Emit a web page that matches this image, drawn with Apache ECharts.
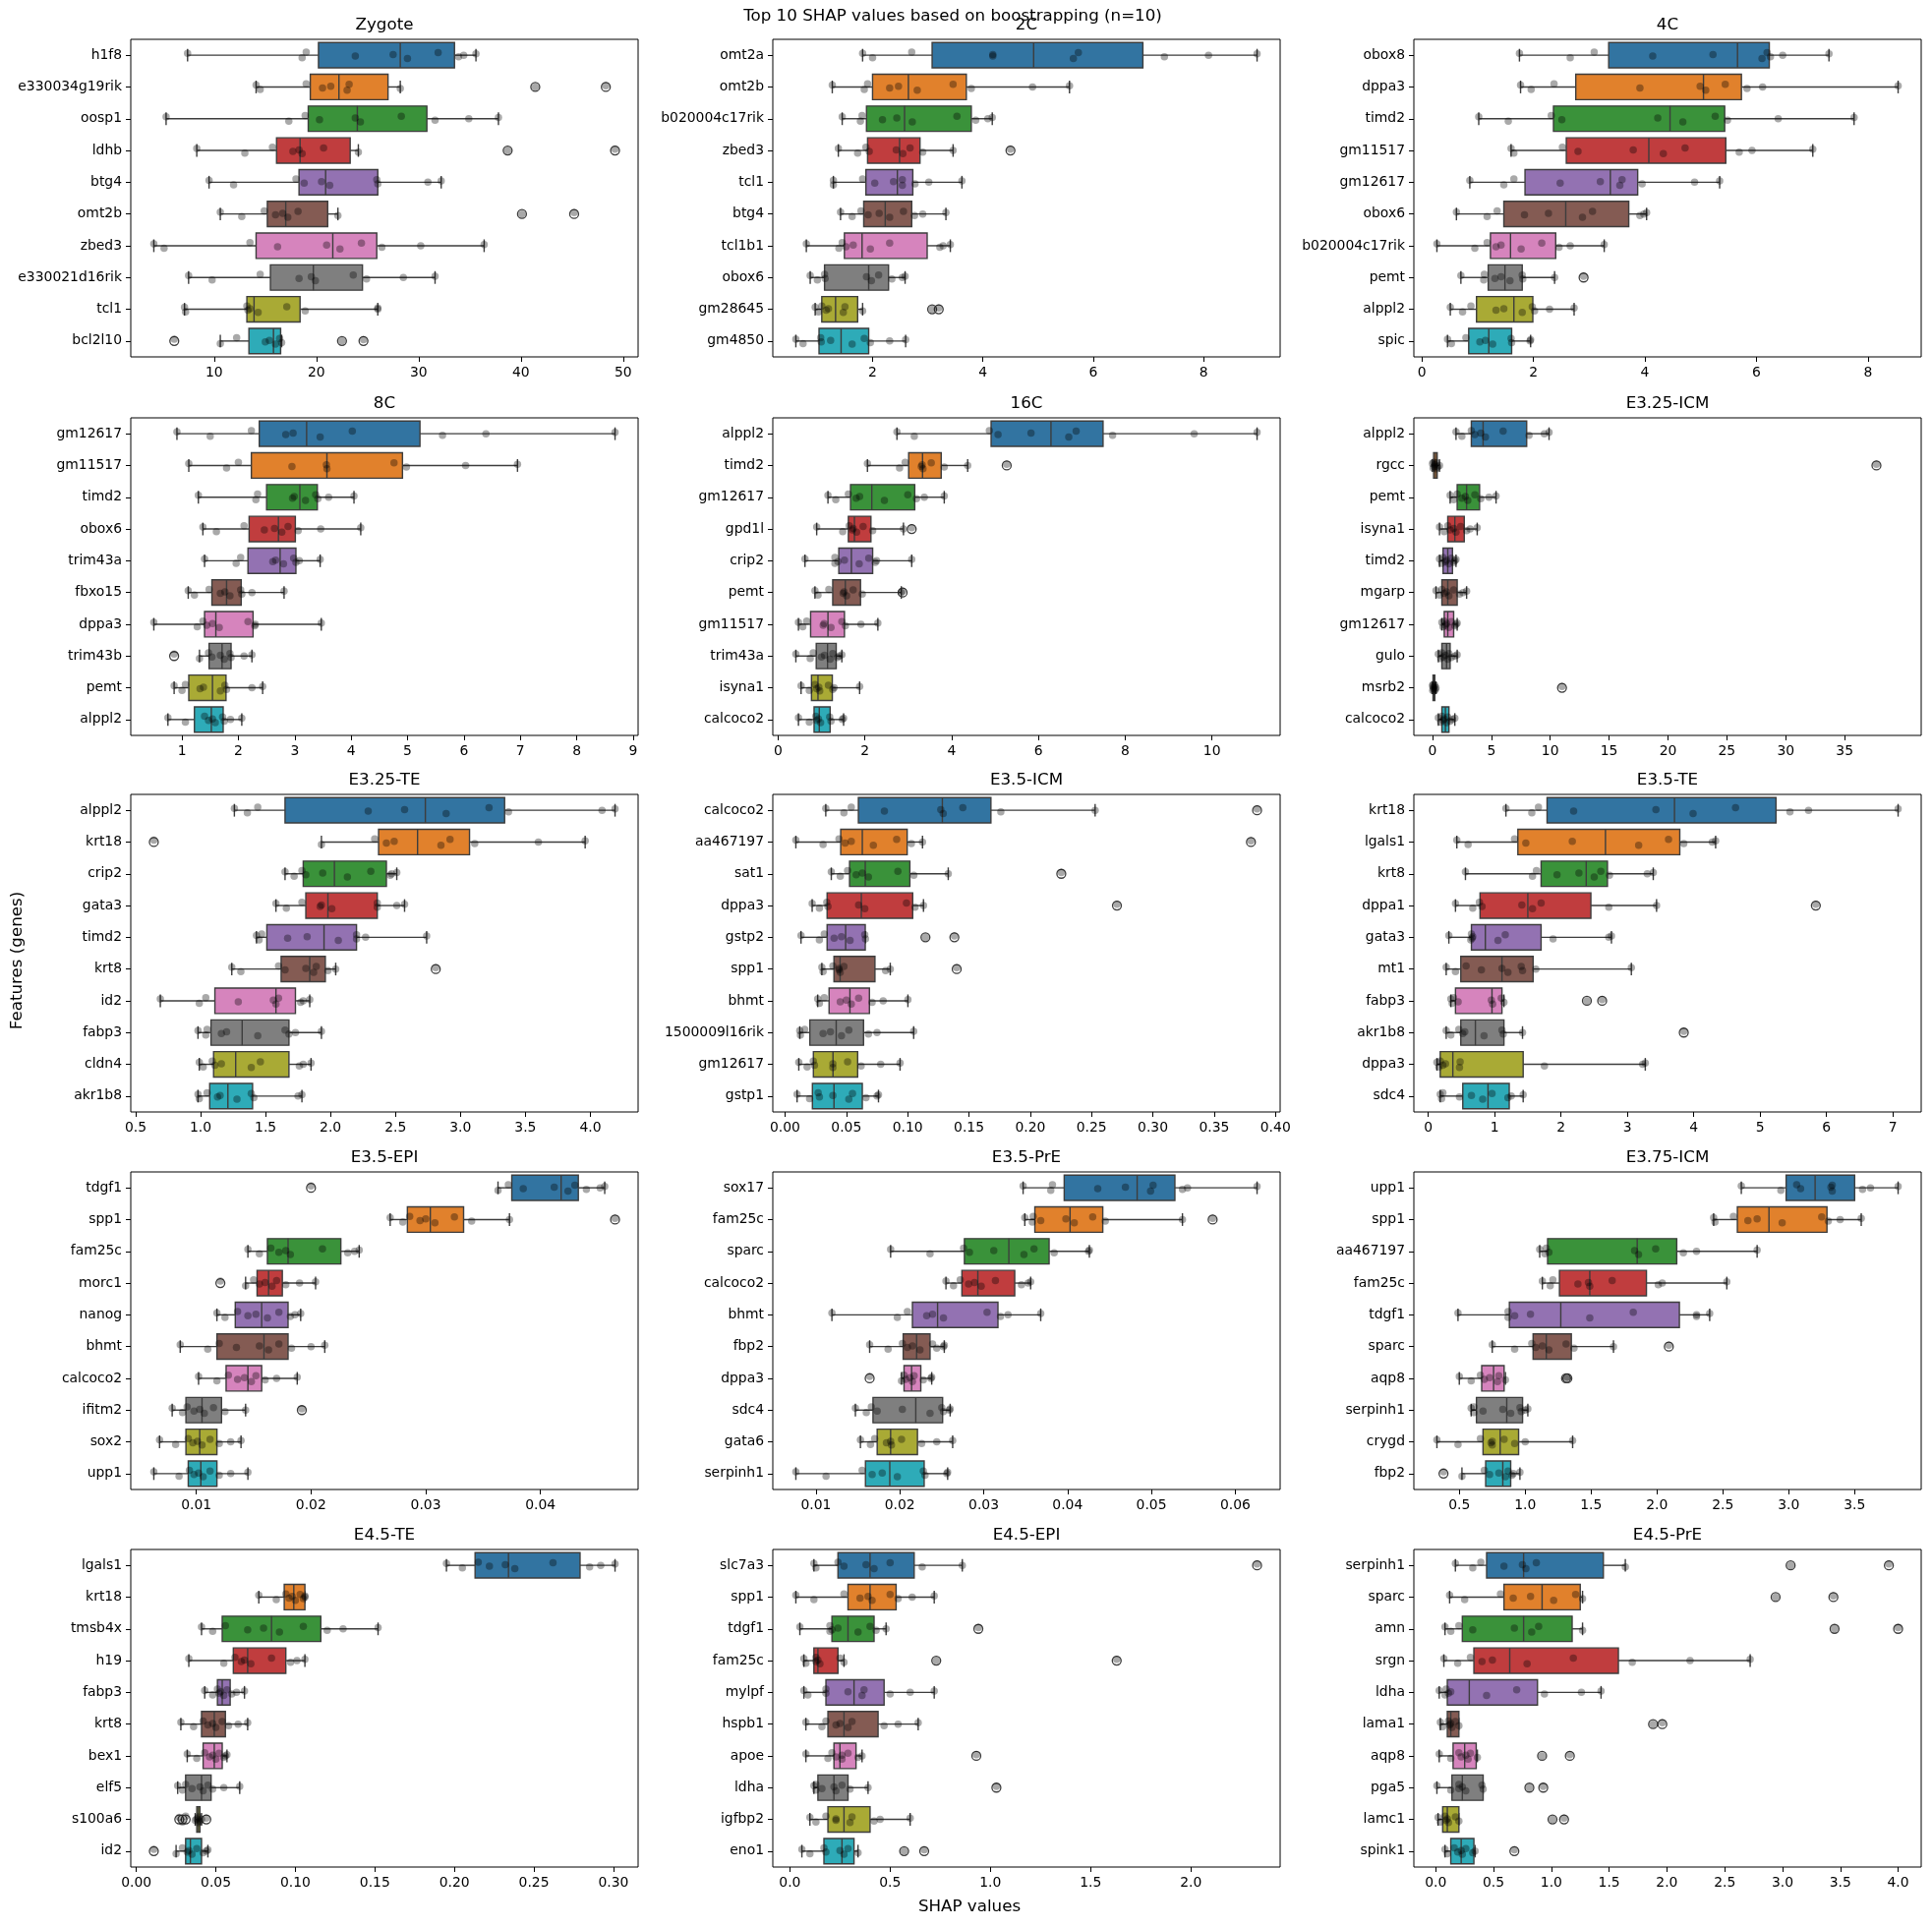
<!DOCTYPE html>
<html>
<head>
<meta charset="utf-8">
<script src="https://cdn.jsdelivr.net/npm/echarts/dist/echarts.min.js"></script>
<style>html,body{margin:0;padding:0;background:#fff}#chart{width:1965px;height:1960px}</style>
</head>
<body>
<div id="chart"></div>
<script>
// ---- data: per panel genes, box stats [low whisker, q1, median, q3, high whisker], strip points ----
const zygoteGenes = ['h1f8','e330034g19rik','oosp1','ldhb','btg4','omt2b','zbed3','e330021d16rik','tcl1','bcl2l10']
const zygoteBox = [[7.4,20.2,28.2,33.5,35.6],[14.1,19.4,22.2,27.0,28.2],[5.3,19.2,24.0,30.8,37.8],[8.3,16.1,18.4,23.3,24.1],[9.5,18.3,20.9,26.0,32.2],[10.6,15.2,17.0,21.1,22.1],[4.1,14.1,21.6,25.9,36.4],[7.5,15.5,19.7,24.5,31.6],[7.1,13.2,13.9,18.4,26.0],[10.6,13.4,15.8,16.5,16.6]]
const zygotePts = [
  [7.4,18.6,19.0,23.8,27.5,28.9,31.9,33.9,34.4,35.6],
  [14.1,14.5,19.0,20.6,21.4,23.0,23.2,28.2,41.4,48.3],
  [5.3,17.3,18.9,20.3,23.8,24.3,28.3,31.6,34.9,37.8],
  [8.3,13.0,15.7,17.7,18.3,18.6,20.7,24.1,38.7,49.2],
  [9.5,11.9,18.0,18.8,20.5,21.3,25.9,26.0,30.9,32.2],
  [10.6,12.7,14.9,16.0,16.7,17.2,18.2,22.1,40.1,45.2],
  [4.1,5.1,13.5,16.2,21.0,22.3,24.4,26.4,30.2,36.4],
  [7.5,9.8,14.5,18.3,19.5,19.9,23.6,24.9,28.5,31.6],
  [7.1,7.2,13.2,13.3,13.5,14.3,17.1,18.9,26.0,26.0],
  [6.1,10.6,12.2,15.0,15.4,16.0,16.4,16.6,22.5,24.6]]
const zygoteTicks = ['10','20','30','40','50']

const c2Genes = ['omt2a','omt2b','b020004c17rik','zbed3','tcl1','btg4','tcl1b1','obox6','gm28645','gm4850']
const c2Box = [[1.82,3.08,4.92,6.90,8.97],[1.27,2.00,2.65,3.70,5.57],[1.45,1.89,2.58,3.79,4.17],[1.38,1.91,2.49,2.86,3.46],[1.29,1.88,2.45,2.73,3.62],[1.42,1.84,2.23,2.71,3.33],[0.80,1.49,1.81,2.99,3.41],[0.87,1.13,1.93,2.29,2.59],[0.96,1.08,1.33,1.73,1.82],[0.61,1.03,1.43,1.93,2.60]]
const c2Pts = [
  [1.82,2.00,2.71,4.18,4.18,5.64,5.73,7.29,8.09,8.97],
  [1.27,1.85,1.91,2.31,2.47,2.81,3.46,3.79,4.90,5.57],
  [1.45,1.78,1.81,2.18,2.44,2.72,3.53,3.87,4.09,4.17],
  [1.38,1.73,1.88,1.94,2.43,2.55,2.68,2.91,3.46,4.50],
  [1.29,1.29,1.82,2.04,2.38,2.54,2.54,2.77,3.02,3.62],
  [1.42,1.63,1.79,1.92,2.12,2.31,2.56,2.76,2.91,3.33],
  [0.80,1.39,1.45,1.52,1.65,1.96,2.31,3.22,3.28,3.41],
  [0.87,1.00,1.13,1.14,1.89,1.98,2.11,2.35,2.54,2.59],
  [0.96,1.02,1.08,1.16,1.20,1.47,1.50,1.82,3.08,3.20],
  [0.61,0.74,1.06,1.07,1.24,1.63,1.85,1.96,2.31,2.60]]
const c2Ticks = ['2','4','6','8']

const c4Genes = ['obox8','dppa3','timd2','gm11517','gm12617','obox6','b020004c17rik','pemt','alppl2','spic']
const c4Box = [[1.75,3.35,5.66,6.23,7.30],[1.77,2.76,5.05,5.73,8.54],[1.02,2.36,4.45,5.43,7.75],[1.60,2.59,4.07,5.45,7.01],[0.86,1.85,3.38,3.87,5.34],[0.62,1.47,2.58,3.71,4.03],[0.27,1.23,1.59,2.40,3.27],[0.70,1.19,1.49,1.80,2.38],[0.51,0.98,1.65,1.99,2.73],[0.46,0.84,1.20,1.61,1.95]]
const c4Pts = [
  [1.75,2.66,3.09,4.14,5.22,6.10,6.19,6.25,6.47,7.30],
  [1.77,1.96,2.37,3.91,4.99,5.09,5.44,5.83,6.11,8.54],
  [1.02,1.55,2.32,2.51,4.23,4.68,5.26,5.48,6.39,7.75],
  [1.60,1.65,2.52,2.80,3.79,4.33,4.72,5.69,5.92,7.01],
  [0.86,1.47,1.65,2.48,3.20,3.55,3.59,3.95,4.89,5.34],
  [0.62,1.17,1.35,1.84,2.27,2.88,3.06,3.91,3.98,4.03],
  [0.27,0.95,1.17,1.33,1.42,1.78,2.15,2.46,2.66,3.27],
  [0.70,1.11,1.12,1.31,1.42,1.58,1.80,1.81,2.38,2.90],
  [0.51,0.73,0.88,1.33,1.47,1.80,1.98,2.02,2.29,2.73],
  [0.46,0.53,0.79,1.04,1.14,1.27,1.60,1.61,1.94,1.95]]
const c4Ticks = ['0','2','4','6','8']

const c8Genes = ['gm12617','gm11517','timd2','obox6','trim43a','fbxo15','dppa3','trim43b','pemt','alppl2']
const c8Box = [[0.91,2.37,3.21,5.22,8.68],[1.12,2.23,3.57,4.91,6.95],[1.29,2.50,3.09,3.40,4.05],[1.37,2.19,2.71,3.01,4.17],[1.40,2.17,2.74,3.02,3.45],[1.11,1.53,1.79,2.05,2.81],[0.50,1.40,1.60,2.26,3.47],[1.31,1.48,1.71,1.87,2.24],[0.86,1.12,1.54,1.78,2.43],[0.75,1.22,1.52,1.73,2.06]]
const c8Pts = [
  [0.91,1.50,2.23,2.84,2.97,3.45,4.02,5.62,6.39,8.68],
  [1.12,1.79,2.00,2.95,3.56,3.57,4.76,4.98,6.03,6.95],
  [1.29,2.31,2.34,2.96,2.99,3.19,3.37,3.41,3.60,4.05],
  [1.37,1.61,2.10,2.46,2.64,2.77,2.88,3.06,3.46,4.17],
  [1.40,1.96,2.04,2.61,2.66,2.80,2.98,3.02,3.08,3.45],
  [1.11,1.22,1.48,1.68,1.76,1.85,2.04,2.06,2.24,2.81],
  [0.50,1.27,1.37,1.44,1.54,1.66,2.17,2.29,2.30,3.47],
  [0.86,1.31,1.47,1.53,1.68,1.75,1.85,1.87,2.10,2.24],
  [0.86,1.00,1.06,1.32,1.38,1.68,1.76,1.79,2.24,2.43],
  [0.75,1.06,1.40,1.47,1.54,1.59,1.72,1.75,1.86,2.06]]
const c8Ticks = ['1','2','3','4','5','6','7','8','9']

const c16Genes = ['alppl2','timd2','gm12617','gpd1l','crip2','pemt','gm11517','trim43a','isyna1','calcoco2']
const c16Box = [[2.74,4.91,6.29,7.49,11.04],[2.06,3.01,3.33,3.76,4.37],[1.15,1.67,2.16,3.15,3.83],[0.89,1.62,1.76,2.14,2.89],[0.62,1.40,1.69,2.18,3.08],[0.85,1.26,1.55,1.90,2.84],[0.47,0.75,1.15,1.53,2.30],[0.41,0.88,1.14,1.34,1.47],[0.53,0.77,0.92,1.25,1.88],[0.47,0.83,0.95,1.20,1.51]]
const c16Pts = [
  [2.74,3.14,4.87,5.07,5.83,6.70,6.87,7.71,9.59,11.04],
  [2.06,2.80,2.93,3.30,3.32,3.34,3.53,3.83,4.37,5.27],
  [1.15,1.33,1.62,1.80,1.88,2.45,2.99,3.19,3.37,3.83],
  [0.89,1.49,1.64,1.71,1.73,1.81,1.96,2.18,2.89,3.08],
  [0.62,1.31,1.31,1.38,1.53,1.87,2.09,2.24,2.27,3.08],
  [0.85,0.92,1.17,1.50,1.52,1.58,1.73,1.94,2.84,2.87],
  [0.47,0.57,0.66,1.04,1.06,1.22,1.47,1.55,1.91,2.30],
  [0.41,0.74,0.81,1.00,1.07,1.20,1.26,1.37,1.41,1.47],
  [0.53,0.72,0.85,0.89,0.94,0.96,1.16,1.26,1.29,1.88],
  [0.47,0.72,0.87,0.89,0.93,0.98,1.19,1.22,1.48,1.51]]
const c16Ticks = ['0','2','4','6','8','10']

const e325icmGenes = ['alppl2','rgcc','pemt','isyna1','timd2','mgarp','gm12617','gulo','msrb2','calcoco2']
const e325icmBox = [[2.0,3.3,4.3,8.0,9.9],[0.0,0.1,0.25,0.4,0.6],[1.5,2.1,2.9,4.0,5.4],[0.6,1.3,1.9,2.7,3.8],[0.6,0.9,1.3,1.7,2.0],[0.3,0.8,1.3,2.1,2.9],[0.8,1.0,1.3,1.8,2.1],[0.5,0.8,1.2,1.5,2.1],[0.0,0.05,0.12,0.2,0.3],[0.5,0.8,1.1,1.4,1.9]]
const e325icmPts = [
  [2.0,2.5,3.3,3.6,4.1,4.5,6.0,8.2,9.5,9.9],
  [0.0,0.05,0.1,0.15,0.2,0.3,0.35,0.45,0.6,37.7],
  [1.5,1.8,2.1,2.5,2.8,3.0,3.6,4.1,4.8,5.4],
  [0.6,1.0,1.3,1.5,1.8,2.0,2.4,2.9,3.2,3.8],
  [0.6,0.8,0.9,1.1,1.2,1.4,1.6,1.8,1.9,2.0],
  [0.3,0.6,0.8,1.0,1.2,1.4,1.8,2.3,2.6,2.9],
  [0.8,0.9,1.0,1.1,1.2,1.4,1.6,1.9,2.0,2.1],
  [0.5,0.7,0.8,0.9,1.1,1.3,1.4,1.6,1.9,2.1],
  [0.0,0.02,0.05,0.08,0.1,0.15,0.2,0.25,0.3,11.0],
  [0.5,0.7,0.8,0.9,1.0,1.2,1.3,1.5,1.7,1.9]]
const e325icmTicks = ['0','5','10','15','20','25','30','35']

const e325teGenes = ['alppl2','krt18','crip2','gata3','timd2','krt8','id2','fabp3','cldn4','akr1b8']
const e325teBox = [[1.26,1.65,2.73,3.34,4.19],[1.93,2.37,2.67,3.07,3.96],[1.65,1.79,2.03,2.43,2.51],[1.58,1.81,1.98,2.36,2.57],[1.43,1.51,1.95,2.20,2.74],[1.24,1.62,1.84,1.96,2.04],[0.69,1.11,1.58,1.73,1.84],[0.98,1.08,1.32,1.68,1.93],[0.99,1.10,1.27,1.68,1.85],[0.98,1.07,1.21,1.40,1.78]]
const e325tePts = [
  [1.26,1.36,1.44,2.29,2.57,2.89,3.22,3.37,4.09,4.19],
  [0.64,1.93,2.34,2.43,2.49,2.85,2.92,3.11,3.60,3.96],
  [1.65,1.72,1.78,1.81,1.94,2.13,2.31,2.46,2.47,2.51],
  [1.58,1.66,1.78,1.92,1.93,2.01,2.36,2.36,2.51,2.57],
  [1.43,1.45,1.47,1.67,1.82,2.06,2.20,2.20,2.27,2.74],
  [1.24,1.31,1.60,1.65,1.81,1.87,1.89,1.98,2.04,2.81],
  [0.69,0.99,1.04,1.29,1.56,1.58,1.60,1.77,1.79,1.84],
  [0.98,1.04,1.05,1.16,1.20,1.44,1.65,1.68,1.73,1.93],
  [0.99,1.02,1.09,1.11,1.16,1.39,1.46,1.76,1.79,1.85],
  [0.98,0.99,1.05,1.13,1.15,1.28,1.39,1.41,1.75,1.78]]
const e325teTicks = ['0.5','1.0','1.5','2.0','2.5','3.0','3.5','4.0']

const e35icmGenes = ['calcoco2','aa467197','sat1','dppa3','gstp2','spp1','bhmt','1500009l16rik','gm12617','gstp1']
const e35icmBox = [[0.0332,0.0598,0.1283,0.1679,0.2529],[0.0088,0.0454,0.0630,0.0996,0.1121],[0.0377,0.0526,0.0654,0.1018,0.1331],[0.0221,0.0343,0.0622,0.1041,0.1129],[0.0130,0.0343,0.0494,0.0654,0.0656],[0.0300,0.0399,0.0449,0.0733,0.0858],[0.0266,0.0359,0.0529,0.0688,0.1002],[0.0120,0.0202,0.0417,0.0640,0.1049],[0.0112,0.0231,0.0391,0.0592,0.0938],[0.0098,0.0223,0.0399,0.0630,0.0762]]
const e35icmPts = [
  [0.0332,0.048,0.054,0.081,0.127,0.129,0.145,0.176,0.2529,0.385],
  [0.0088,0.031,0.044,0.049,0.054,0.072,0.091,0.103,0.1121,0.380],
  [0.0377,0.045,0.051,0.058,0.063,0.068,0.092,0.105,0.1331,0.2253],
  [0.0221,0.028,0.034,0.035,0.060,0.065,0.099,0.106,0.1129,0.2707],
  [0.0130,0.028,0.032,0.040,0.046,0.053,0.065,0.0656,0.1145,0.1381],
  [0.0300,0.031,0.039,0.044,0.044,0.045,0.048,0.082,0.0858,0.1400],
  [0.0266,0.028,0.032,0.045,0.050,0.054,0.060,0.071,0.080,0.1002],
  [0.0120,0.0125,0.016,0.031,0.037,0.046,0.052,0.068,0.075,0.1049],
  [0.0112,0.018,0.023,0.024,0.039,0.039,0.051,0.062,0.078,0.0938],
  [0.0098,0.020,0.027,0.028,0.039,0.052,0.055,0.066,0.075,0.0762]]
const e35icmTicks = ['0.00','0.05','0.10','0.15','0.20','0.25','0.30','0.35','0.40']

const e35teGenes = ['krt18','lgals1','krt8','dppa1','gata3','mt1','fabp3','akr1b8','dppa3','sdc4']
const e35teBox = [[1.17,1.79,3.71,5.24,7.08],[0.43,1.35,2.67,3.79,4.33],[0.56,1.70,2.38,2.70,3.39],[0.41,0.78,1.50,2.45,3.44],[0.31,0.65,0.86,1.70,2.76],[0.27,0.49,1.11,1.58,3.06],[0.34,0.41,0.96,1.11,1.14],[0.27,0.49,0.71,1.14,1.42],[0.13,0.18,0.37,1.43,3.27],[0.18,0.52,0.90,1.22,1.43]]
const e35tePts = [
  [1.17,1.56,1.66,2.19,3.43,3.99,4.63,5.45,5.73,7.08],
  [0.43,0.60,1.30,1.47,2.17,3.17,3.62,3.85,4.28,4.33],
  [0.56,1.57,1.63,1.94,2.27,2.50,2.60,2.73,3.30,3.39],
  [0.41,0.67,0.77,0.81,1.41,1.57,1.70,2.72,3.44,5.84],
  [0.31,0.64,0.65,0.66,0.67,1.05,1.16,1.88,2.72,2.76],
  [0.27,0.41,0.57,0.80,1.11,1.20,1.40,1.42,1.62,3.06],
  [0.34,0.36,0.38,0.45,0.95,0.97,1.10,1.14,2.39,2.62],
  [0.27,0.34,0.46,0.52,0.55,0.84,1.11,1.13,1.42,3.85],
  [0.13,0.16,0.18,0.22,0.26,0.47,0.48,1.75,3.23,3.27],
  [0.18,0.20,0.22,0.47,0.65,0.82,0.96,1.20,1.25,1.43]]
const e35teTicks = ['0','1','2','3','4','5','6','7']

const e35epiGenes = ['tdgf1','spp1','fam25c','morc1','nanog','bhmt','calcoco2','ifitm2','sox2','upp1']
const e35epiBox = [[0.0363,0.0375,0.0418,0.0433,0.0456],[0.0269,0.0284,0.0304,0.0333,0.0373],[0.0145,0.0162,0.0180,0.0226,0.0242],[0.0143,0.0153,0.0163,0.0175,0.0204],[0.0118,0.0134,0.0157,0.0180,0.0191],[0.0086,0.0118,0.0159,0.0180,0.0212],[0.0102,0.0126,0.0145,0.0157,0.0188],[0.0079,0.0091,0.0105,0.0122,0.0143],[0.0068,0.0091,0.0103,0.0118,0.0139],[0.0063,0.0093,0.0104,0.0118,0.0145]]
const e35epiPts = [
  [0.0200,0.0363,0.0372,0.0385,0.0412,0.0424,0.0430,0.0440,0.0452,0.0456],
  [0.0269,0.0280,0.0286,0.0295,0.0300,0.0308,0.0325,0.0340,0.0373,0.0465],
  [0.0145,0.0155,0.0165,0.0172,0.0178,0.0182,0.0210,0.0232,0.0238,0.0242],
  [0.0121,0.0143,0.0150,0.0155,0.0160,0.0166,0.0170,0.0178,0.0190,0.0204],
  [0.0118,0.0125,0.0136,0.0145,0.0152,0.0162,0.0172,0.0182,0.0186,0.0191],
  [0.0086,0.0110,0.0120,0.0135,0.0155,0.0163,0.0172,0.0183,0.0200,0.0212],
  [0.0102,0.0118,0.0128,0.0136,0.0142,0.0148,0.0152,0.0160,0.0170,0.0188],
  [0.0079,0.0088,0.0092,0.0098,0.0103,0.0107,0.0115,0.0125,0.0143,0.0192],
  [0.0068,0.0082,0.0093,0.0097,0.0101,0.0105,0.0112,0.0120,0.0130,0.0139],
  [0.0063,0.0085,0.0094,0.0098,0.0102,0.0106,0.0112,0.0120,0.0130,0.0145]]
const e35epiTicks = ['0.01','0.02','0.03','0.04']

const e35preGenes = ['sox17','fam25c','sparc','calcoco2','bhmt','fbp2','dppa3','sdc4','gata6','serpinh1']
const e35preBox = [[0.0347,0.0396,0.0483,0.0528,0.0626],[0.0349,0.0361,0.0403,0.0442,0.0537],[0.0189,0.0277,0.0330,0.0378,0.0426],[0.0255,0.0274,0.0293,0.0337,0.0356],[0.0119,0.0215,0.0245,0.0317,0.0368],[0.0164,0.0204,0.0220,0.0236,0.0253],[0.0202,0.0205,0.0214,0.0225,0.0238],[0.0147,0.0168,0.0219,0.0251,0.0260],[0.0153,0.0173,0.0189,0.0221,0.0263],[0.0076,0.0159,0.0188,0.0229,0.0257]]
const e35prePts = [
  [0.0347,0.0380,0.0382,0.0436,0.0469,0.0499,0.0502,0.0537,0.0543,0.0626],
  [0.0349,0.0358,0.0359,0.0368,0.0398,0.0408,0.0430,0.0445,0.0537,0.0573],
  [0.0189,0.0236,0.0276,0.0283,0.0312,0.0348,0.0360,0.0384,0.0425,0.0426],
  [0.0255,0.0264,0.0272,0.0282,0.0289,0.0297,0.0314,0.0345,0.0353,0.0356],
  [0.0119,0.0197,0.0209,0.0232,0.0239,0.0252,0.0304,0.0320,0.0329,0.0368],
  [0.0164,0.0186,0.0203,0.0209,0.0215,0.0224,0.0239,0.0244,0.0252,0.0253],
  [0.0164,0.0202,0.0205,0.0207,0.0212,0.0215,0.0217,0.0228,0.0237,0.0238],
  [0.0147,0.0160,0.0166,0.0173,0.0203,0.0236,0.0250,0.0252,0.0259,0.0260],
  [0.0153,0.0165,0.0170,0.0184,0.0189,0.0190,0.0202,0.0226,0.0244,0.0263],
  [0.0076,0.0112,0.0155,0.0167,0.0179,0.0197,0.0228,0.0230,0.0256,0.0257]]
const e35preTicks = ['0.01','0.02','0.03','0.04','0.05','0.06']

const e375icmGenes = ['upp1','spp1','aa467197','fam25c','tdgf1','sparc','aqp8','serpinh1','crygd','fbp2']
const e375icmBox = [[2.64,2.98,3.20,3.50,3.83],[2.43,2.61,2.85,3.29,3.55],[1.11,1.17,1.85,2.15,2.76],[1.13,1.26,1.49,1.92,2.53],[0.49,0.88,1.27,2.17,2.40],[0.75,1.06,1.16,1.35,1.67],[0.50,0.67,0.76,0.84,0.85],[0.59,0.63,0.86,0.98,1.02],[0.33,0.68,0.81,0.95,1.36],[0.52,0.70,0.83,0.89,0.96]]
const e375icmPts = [
  [2.64,2.94,3.06,3.09,3.32,3.33,3.33,3.56,3.62,3.83],
  [2.43,2.44,2.58,2.69,2.76,2.95,3.25,3.30,3.39,3.55],
  [1.11,1.15,1.16,1.18,1.83,1.86,1.99,2.20,2.30,2.76],
  [1.13,1.19,1.21,1.40,1.48,1.49,1.66,2.01,2.04,2.53],
  [0.49,0.87,0.87,0.92,1.04,1.49,1.82,2.30,2.30,2.40],
  [0.75,0.92,1.05,1.08,1.13,1.18,1.31,1.37,1.67,2.09],
  [0.50,0.59,0.66,0.69,0.73,0.79,0.80,0.85,1.31,1.32],
  [0.59,0.61,0.61,0.68,0.83,0.89,0.96,0.97,1.00,1.02],
  [0.33,0.49,0.66,0.74,0.75,0.75,0.84,0.92,1.00,1.36],
  [0.38,0.52,0.69,0.73,0.80,0.85,0.87,0.90,0.91,0.96]]
const e375icmTicks = ['0.5','1.0','1.5','2.0','2.5','3.0','3.5']

const e45teGenes = ['lgals1','krt18','tmsb4x','h19','fabp3','krt8','bex1','elf5','s100a6','id2']
const e45teBox = [[0.195,0.213,0.234,0.279,0.301],[0.077,0.093,0.099,0.106,0.106],[0.041,0.054,0.085,0.116,0.152],[0.033,0.061,0.070,0.094,0.106],[0.043,0.051,0.054,0.059,0.068],[0.028,0.041,0.049,0.056,0.070],[0.032,0.042,0.049,0.054,0.057],[0.026,0.031,0.041,0.047,0.065],[0.037,0.038,0.039,0.040,0.041],[0.025,0.031,0.034,0.041,0.045]]
const e45tePts = [
  [0.195,0.205,0.215,0.222,0.232,0.238,0.262,0.285,0.292,0.301],
  [0.077,0.088,0.094,0.096,0.098,0.100,0.103,0.105,0.106,0.106],
  [0.041,0.048,0.056,0.070,0.080,0.090,0.105,0.120,0.130,0.152],
  [0.033,0.055,0.062,0.066,0.068,0.072,0.085,0.097,0.101,0.106],
  [0.043,0.048,0.051,0.052,0.053,0.055,0.057,0.060,0.063,0.068],
  [0.028,0.036,0.042,0.045,0.048,0.050,0.054,0.058,0.064,0.070],
  [0.032,0.038,0.043,0.046,0.048,0.050,0.052,0.055,0.056,0.057],
  [0.026,0.029,0.031,0.035,0.040,0.042,0.045,0.048,0.055,0.065],
  [0.027,0.029,0.031,0.037,0.038,0.039,0.039,0.040,0.041,0.044],
  [0.011,0.025,0.029,0.032,0.033,0.035,0.038,0.042,0.044,0.045]]
const e45teTicks = ['0.00','0.05','0.10','0.15','0.20','0.25','0.30']

const e45epiGenes = ['slc7a3','spp1','tdgf1','fam25c','mylpf','hspb1','apoe','ldha','igfbp2','eno1']
const e45epiBox = [[0.12,0.24,0.40,0.62,0.86],[0.03,0.29,0.40,0.53,0.72],[0.05,0.21,0.29,0.42,0.48],[0.07,0.12,0.14,0.24,0.27],[0.07,0.18,0.32,0.47,0.72],[0.08,0.19,0.27,0.44,0.64],[0.08,0.22,0.25,0.33,0.36],[0.12,0.14,0.22,0.29,0.39],[0.10,0.19,0.27,0.40,0.60],[0.06,0.17,0.26,0.32,0.34]]
const e45epiPts = [
  [0.12,0.13,0.24,0.27,0.38,0.42,0.50,0.66,0.86,2.33],
  [0.03,0.12,0.27,0.35,0.39,0.41,0.50,0.54,0.61,0.72],
  [0.05,0.20,0.20,0.21,0.24,0.34,0.40,0.43,0.48,0.94],
  [0.07,0.08,0.13,0.13,0.14,0.15,0.25,0.27,0.73,1.63],
  [0.07,0.09,0.18,0.18,0.29,0.36,0.37,0.50,0.60,0.72],
  [0.08,0.16,0.18,0.23,0.25,0.29,0.31,0.47,0.54,0.64],
  [0.08,0.19,0.21,0.23,0.26,0.26,0.29,0.34,0.36,0.93],
  [0.12,0.13,0.13,0.16,0.22,0.23,0.26,0.30,0.39,1.03],
  [0.10,0.13,0.18,0.23,0.23,0.30,0.31,0.42,0.45,0.60],
  [0.06,0.10,0.17,0.18,0.25,0.27,0.29,0.34,0.57,0.67]]
const e45epiTicks = ['0.0','0.5','1.0','1.5','2.0']

const e45preGenes = ['serpinh1','sparc','amn','srgn','ldha','lama1','aqp8','pga5','lamc1','spink1']
const e45preBox = [[0.17,0.44,0.76,1.45,1.64],[0.12,0.59,0.92,1.25,1.27],[0.08,0.23,0.76,1.18,1.27],[0.07,0.33,0.64,1.58,2.72],[0.03,0.10,0.29,0.88,1.43],[0.04,0.10,0.13,0.20,0.20],[0.03,0.15,0.25,0.35,0.36],[0.01,0.14,0.23,0.41,0.41],[0.02,0.06,0.10,0.20,0.20],[0.08,0.13,0.22,0.33,0.34]]
const e45prePts = [
  [0.17,0.32,0.39,0.59,0.75,0.78,0.87,1.64,3.07,3.92],
  [0.12,0.25,0.56,0.67,0.82,1.02,1.21,1.27,2.94,3.44],
  [0.08,0.13,0.20,0.32,0.68,0.83,0.89,1.27,3.45,4.00],
  [0.07,0.19,0.30,0.40,0.49,0.79,1.19,1.70,2.20,2.72],
  [0.03,0.08,0.09,0.11,0.13,0.44,0.70,0.94,1.26,1.43],
  [0.04,0.06,0.11,0.12,0.13,0.14,0.17,0.20,1.88,1.96],
  [0.03,0.13,0.20,0.22,0.26,0.28,0.30,0.36,0.92,1.16],
  [0.01,0.13,0.20,0.20,0.23,0.26,0.40,0.41,0.81,0.93],
  [0.02,0.04,0.08,0.09,0.10,0.11,0.17,0.20,1.01,1.11],
  [0.08,0.10,0.16,0.19,0.22,0.23,0.26,0.32,0.34,0.68]]
const e45preTicks = ['0.0','0.5','1.0','1.5','2.0','2.5','3.0','3.5','4.0']

// ---- layout / style ----
const COLORS = ['#3274a1','#e1812c','#3a923a','#c03d3e','#9372b2','#845b53','#d684bd','#7f7f7f','#a9aa35','#2eabb8']
const EDGE = '#3d3d3d'
const JITTER = [-0.06, 0.08, -0.1, 0.03, -0.02, 0.1, -0.08, 0.05, 0.0, -0.04]
const COL_LEFT = [133, 786, 1438]
const ROW_TOP = [40, 425, 808, 1192, 1576]
const W = 516, H = 323
const FONT = 'DejaVu Sans'

const panels = [
  {title: 'Zygote', genes: zygoteGenes, box: zygoteBox, pts: zygotePts, ticks: zygoteTicks},
  {title: '2C', genes: c2Genes, box: c2Box, pts: c2Pts, ticks: c2Ticks},
  {title: '4C', genes: c4Genes, box: c4Box, pts: c4Pts, ticks: c4Ticks},
  {title: '8C', genes: c8Genes, box: c8Box, pts: c8Pts, ticks: c8Ticks},
  {title: '16C', genes: c16Genes, box: c16Box, pts: c16Pts, ticks: c16Ticks},
  {title: 'E3.25-ICM', genes: e325icmGenes, box: e325icmBox, pts: e325icmPts, ticks: e325icmTicks, xlim: [-1.58, 41.5]},
  {title: 'E3.25-TE', genes: e325teGenes, box: e325teBox, pts: e325tePts, ticks: e325teTicks},
  {title: 'E3.5-ICM', genes: e35icmGenes, box: e35icmBox, pts: e35icmPts, ticks: e35icmTicks},
  {title: 'E3.5-TE', genes: e35teGenes, box: e35teBox, pts: e35tePts, ticks: e35teTicks},
  {title: 'E3.5-EPI', genes: e35epiGenes, box: e35epiBox, pts: e35epiPts, ticks: e35epiTicks},
  {title: 'E3.5-PrE', genes: e35preGenes, box: e35preBox, pts: e35prePts, ticks: e35preTicks},
  {title: 'E3.75-ICM', genes: e375icmGenes, box: e375icmBox, pts: e375icmPts, ticks: e375icmTicks},
  {title: 'E4.5-TE', genes: e45teGenes, box: e45teBox, pts: e45tePts, ticks: e45teTicks},
  {title: 'E4.5-EPI', genes: e45epiGenes, box: e45epiBox, pts: e45epiPts, ticks: e45epiTicks},
  {title: 'E4.5-PrE', genes: e45preGenes, box: e45preBox, pts: e45prePts, ticks: e45preTicks}
]

function renderBox(params, api) {
  const i = api.value(0)
  const v = [1, 2, 3, 4, 5].map(d => api.value(d))
  const x = v.map(val => api.coord([val, i])[0])
  const yc = api.coord([v[0], i])[1]
  const ya = api.coord([v[0], i - 0.4])[1]
  const yb = api.coord([v[0], i + 0.4])[1]
  const yTop = Math.min(ya, yb), yBot = Math.max(ya, yb)
  const cap = (yBot - yTop) / 4
  const ls = {stroke: EDGE, lineWidth: 1.4}
  return {
    type: 'group',
    children: [
      {type: 'line', shape: {x1: x[0], y1: yc, x2: x[1], y2: yc}, style: ls},
      {type: 'line', shape: {x1: x[3], y1: yc, x2: x[4], y2: yc}, style: ls},
      {type: 'line', shape: {x1: x[0], y1: yc - cap, x2: x[0], y2: yc + cap}, style: ls},
      {type: 'line', shape: {x1: x[4], y1: yc - cap, x2: x[4], y2: yc + cap}, style: ls},
      {type: 'rect', shape: {x: x[1], y: yTop, width: x[3] - x[1], height: yBot - yTop},
        style: {fill: COLORS[i % 10], stroke: EDGE, lineWidth: 1.4}},
      {type: 'line', shape: {x1: x[2], y1: yTop, x2: x[2], y2: yBot}, style: ls}
    ]
  }
}

const grid = [], xAxis = [], yAxis = [], series = [], graphic = []

panels.forEach((p, k) => {
  const left = COL_LEFT[k % 3], top = ROW_TOP[Math.floor(k / 3)]
  grid.push({left: left, top: top, width: W, height: H, show: true, borderColor: '#000', borderWidth: 1,
    backgroundColor: 'transparent', containLabel: false, outerBoundsMode: 'none'})

  // matplotlib-style autoscale: 5% margin around the data
  const all = p.pts.flat()
  const mn = Math.min(...all), mx = Math.max(...all), pad = (mx - mn) * 0.05
  const lim = p.xlim || [mn - pad, mx + pad]
  const tickVals = p.ticks.map(Number)

  xAxis.push({
    gridIndex: k, type: 'value', min: lim[0], max: lim[1],
    axisLine: {show: false, onZero: false}, splitLine: {show: false},
    axisTick: {show: true, length: 5, lineStyle: {color: '#000', width: 1}, customValues: tickVals},
    axisLabel: {
      customValues: tickVals, color: '#000', fontSize: 13.9, fontFamily: FONT, margin: 9,
      formatter: val => {
        let best = 0
        tickVals.forEach((t, j) => { if (Math.abs(t - val) < Math.abs(tickVals[best] - val)) best = j })
        return p.ticks[best]
      }
    }
  })
  yAxis.push({
    gridIndex: k, type: 'value', min: -0.5, max: 9.5, inverse: true,
    axisLine: {show: false, onZero: false}, splitLine: {show: false},
    axisTick: {show: true, length: 5, lineStyle: {color: '#000', width: 1}, customValues: [0,1,2,3,4,5,6,7,8,9]},
    axisLabel: {
      customValues: [0,1,2,3,4,5,6,7,8,9], color: '#000', fontSize: 13.9, fontFamily: FONT, margin: 9,
      formatter: val => p.genes[Math.round(val)]
    }
  })

  const boxData = p.box.map((b, i) => [i].concat(b))
  const fliers = [], strip = []
  p.pts.forEach((row, i) => {
    const lo = p.box[i][0], hi = p.box[i][4]
    row.forEach((val, j) => {
      if (val < lo || val > hi) fliers.push([val, i])
      strip.push([val, i + JITTER[j]])
    })
  })

  series.push({
    type: 'custom', xAxisIndex: k, yAxisIndex: k, data: boxData, renderItem: renderBox,
    encode: {x: [1, 2, 3, 4, 5], y: 0}, z: 2, silent: true
  })
  series.push({
    type: 'scatter', xAxisIndex: k, yAxisIndex: k, data: fliers, symbol: 'circle', symbolSize: 9,
    itemStyle: {color: 'rgba(255,255,255,0)', borderColor: EDGE, borderWidth: 1.3, opacity: 1}, z: 3, silent: true
  })
  series.push({
    type: 'scatter', xAxisIndex: k, yAxisIndex: k, data: strip, symbol: 'circle', symbolSize: 7.5,
    itemStyle: {color: 'rgba(0,0,0,0.42)'}, z: 4, silent: true
  })

  graphic.push({
    type: 'text', x: left + W / 2, y: top - 6,
    style: {text: p.title, fontSize: 16.7, fontFamily: FONT, fill: '#000', align: 'center', verticalAlign: 'bottom'}
  })
})

graphic.push({
  type: 'text', x: 969, y: 17,
  style: {text: 'Top 10 SHAP values based on boostrapping (n=10)', fontSize: 16.7, fontFamily: FONT, fill: '#000', align: 'center', verticalAlign: 'middle'}
})
graphic.push({
  type: 'text', x: 986, y: 1940,
  style: {text: 'SHAP values', fontSize: 16.7, fontFamily: FONT, fill: '#000', align: 'center', verticalAlign: 'middle'}
})
graphic.push({
  type: 'text', x: 18, y: 977, rotation: Math.PI / 2,
  style: {text: 'Features (genes)', fontSize: 16.7, fontFamily: FONT, fill: '#000', align: 'center', verticalAlign: 'middle'}
})

const chart = echarts.init(document.getElementById('chart'))
chart.setOption({
  animation: false,
  backgroundColor: '#fff',
  grid: grid,
  xAxis: xAxis,
  yAxis: yAxis,
  series: series,
  graphic: graphic
})
</script>
</body>
</html>
